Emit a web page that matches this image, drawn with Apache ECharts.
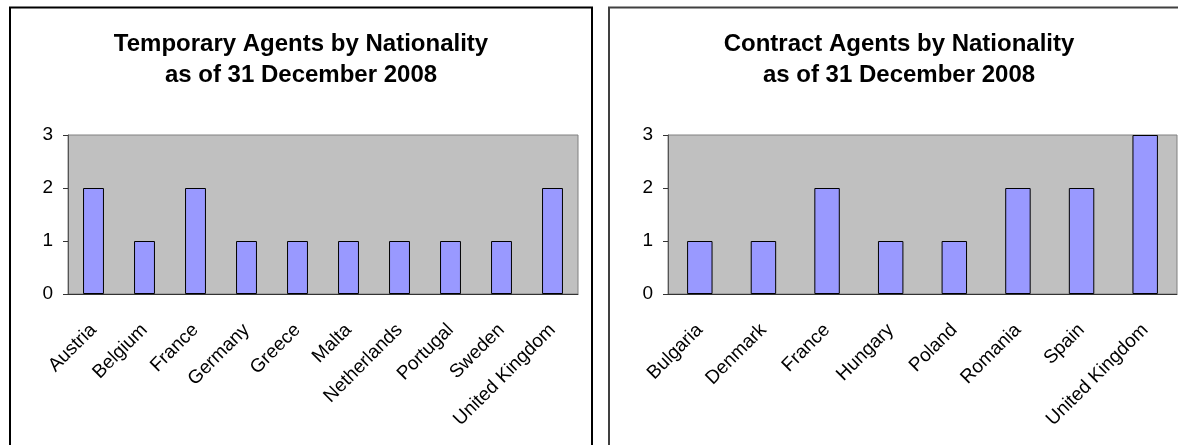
<!DOCTYPE html>
<html>
<head>
<meta charset="utf-8">
<title>Agents by Nationality</title>
<script src="https://cdn.jsdelivr.net/npm/echarts@6/dist/echarts.min.js"></script>
<style>
  * { margin: 0; padding: 0; }
  body { background: #fff; }
  #main { width: 1178px; height: 445px; }
</style>
</head>
<body>
<div id="main"></div>
<script type="text/javascript">
// data
var tempCountries = ['Austria', 'Belgium', 'France', 'Germany', 'Greece', 'Malta', 'Netherlands', 'Portugal', 'Sweden', 'United Kingdom'];
var tempCounts = [2, 1, 2, 1, 1, 1, 1, 1, 1, 2];
var contractCountries = ['Bulgaria', 'Denmark', 'France', 'Hungary', 'Poland', 'Romania', 'Spain', 'United Kingdom'];
var contractCounts = [1, 1, 2, 1, 1, 2, 2, 3];
var yTicks = [0, 1, 2, 3];

var font = 'Liberation Sans, Arial, sans-serif';
var myChart = echarts.init(document.getElementById('main'));

function xAxisFor(cats, idx) {
  return {
    type: 'category',
    gridIndex: idx,
    data: cats,
    axisLine: { lineStyle: { color: '#333', width: 1 } },
    axisTick: { length: 5, lineStyle: { color: '#333' } },
    axisLabel: { interval: 0, rotate: 45, margin: 33, color: '#000', fontSize: 19, fontFamily: font }
  };
}
function yAxisFor(idx) {
  return {
    type: 'value',
    gridIndex: idx,
    min: yTicks[0],
    max: yTicks[yTicks.length - 1],
    interval: 1,
    splitLine: { show: false },
    axisLine: { show: true, lineStyle: { color: '#555', width: 1 } },
    axisTick: { show: true, length: 5, lineStyle: { color: '#333' } },
    axisLabel: { color: '#000', fontSize: 19, fontFamily: font, margin: 15 }
  };
}
function barsFor(vals, idx, w) {
  return {
    type: 'bar',
    xAxisIndex: idx,
    yAxisIndex: idx,
    data: vals,
    barWidth: w,
    itemStyle: { color: '#9999ff', borderColor: '#000', borderWidth: 1 },
    silent: true
  };
}

var titleStyle = { fontFamily: font, fontWeight: 'bold', fontSize: 24, lineHeight: 31, color: '#000' };

var option = {
  animation: false,
  title: [
    {
      text: 'Temporary Agents by Nationality\nas of 31 December 2008',
      left: 301, top: 29, padding: 0, textAlign: 'center',
      textStyle: titleStyle
    },
    {
      text: 'Contract Agents by Nationality\nas of 31 December 2008',
      left: 899, top: 29, padding: 0, textAlign: 'center',
      textStyle: titleStyle
    }
  ],
  grid: [
    { left: 68, top: 135, width: 510, height: 159, show: true, backgroundColor: '#c0c0c0', borderColor: '#808080', borderWidth: 1 },
    { left: 668, top: 135, width: 509, height: 159, show: true, backgroundColor: '#c0c0c0', borderColor: '#808080', borderWidth: 1 }
  ],
  xAxis: [xAxisFor(tempCountries, 0), xAxisFor(contractCountries, 1)],
  yAxis: [yAxisFor(0), yAxisFor(1)],
  series: [barsFor(tempCounts, 0, '41%'), barsFor(contractCounts, 1, '40%')],
  graphic: [
    // chart frames
    { type: 'rect', shape: { x: 10, y: 7.5, width: 582, height: 460 }, style: { fill: 'none', stroke: '#000', lineWidth: 2 }, z: 100 },
    { type: 'rect', shape: { x: 609, y: 7.5, width: 600, height: 460 }, style: { fill: 'none', stroke: '#404040', lineWidth: 2 }, z: 100 }
  ]
};
myChart.setOption(option);
</script>
</body>
</html>
